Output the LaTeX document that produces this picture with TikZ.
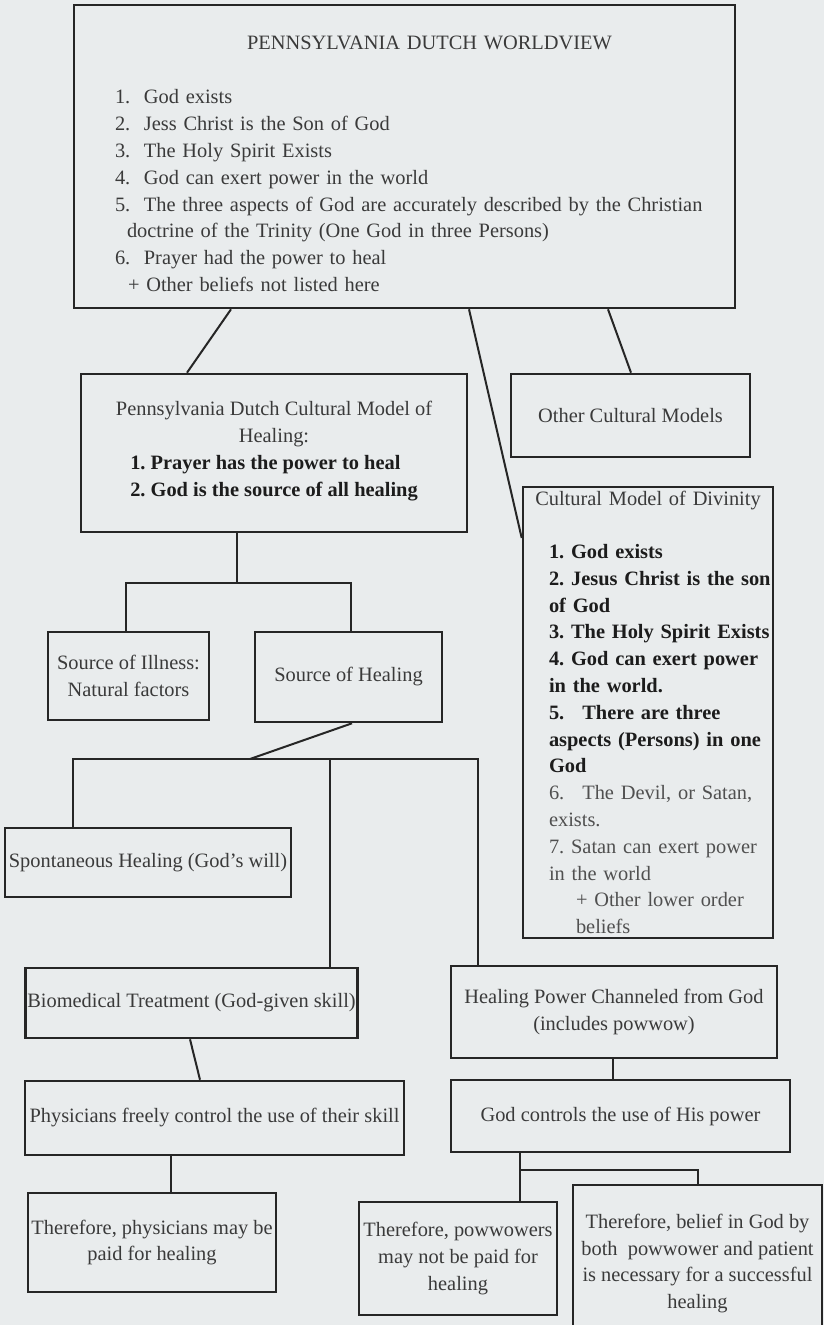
\documentclass[tikz,border=0pt]{standalone}
\usepackage{fontspec}
\setmainfont{Liberation Serif}
\usetikzlibrary{positioning}
\frenchspacing

\definecolor{paper}{RGB}{233,236,237}
\definecolor{ink}{RGB}{58,58,58}
\definecolor{boldink}{RGB}{28,28,28}
\definecolor{softink}{RGB}{80,80,80}
\definecolor{linecol}{RGB}{38,38,38}
\newcommand{\held}[1]{{\color{boldink}\bfseries #1}}

\begin{document}
\begin{tikzpicture}[x=0.5pt,y=-0.5pt]
        \tikzset{modelbox/.style={draw=linecol,line width=1.3pt,inner sep=2pt,text=ink,align=center,font=\fontsize{10.2}{13.4}\selectfont}}
        \tikzset{boxsize/.style 2 args={minimum width=#1*0.5pt,minimum height=#2*0.5pt}}
        \tikzset{link/.style={draw=linecol,line width=1pt}}

        \fill[paper] (0,0) rectangle (824,1325);
        \useasboundingbox (0,0) rectangle (824,1325);

        % worldview and the models under it
        \node[modelbox,boxsize={661}{303},text width=330.5pt,inner xsep=0pt,align=left] (worldview) at (404.5,156.5) {\leftskip=20.5pt\noindent\hspace*{-20.5pt}\makebox[\linewidth]{\hspace{25pt}\rule{0pt}{14pt}PENNSYLVANIA DUTCH WORLDVIEW}\\[14pt]
            1.~ God exists\\
            2.~ Jess Christ is the Son of God\\
            3.~ The Holy Spirit Exists\\
            4.~ God can exert power in the world\\
            \mbox{5.~ The three aspects of God are accurately described by the Christian}\\
            \hspace*{6pt}doctrine of the Trinity (One God in three Persons)\\
            6.~ Prayer had the power to heal\\
            \hspace*{6.5pt}+ Other beliefs not listed here\par};

        \node[modelbox,boxsize={386}{158}] (heal-model) at (274,453) {Pennsylvania Dutch Cultural Model of\\ Healing:\\
            \begin{tabular}[t]{@{}l@{}}\held{1. Prayer has the power to heal}\\ \held{2. God is the source of all healing}\end{tabular}};
        \node[modelbox,boxsize={239}{83}] (other-models) at (630.5,415.5) {Other Cultural Models};

        \node[modelbox,boxsize={250}{451},text width=125pt,inner xsep=0pt,align=left] (divinity) at (648,712.5) {\leftskip=13pt\noindent\hspace*{-13pt}\makebox[\linewidth]{Cultural Model of Divinity}\\[13.1pt]
            \held{1. God exists}\\
            \mbox{\held{2. Jesus Christ is the son}}\\
            \held{of God}\\
            \mbox{\held{3. The Holy Spirit Exists}}\\
            \mbox{\held{4. God can exert power}}\\
            \held{in the world.}\\
            \held{5.\hspace{9pt}There are three}\\
            \mbox{\held{aspects (Persons) in one}}\\
            \held{God}\\
            {\color{softink}6.\hspace{9pt}The Devil, or Satan,}\\
            {\color{softink}exists.}\\
            {\color{softink}7. Satan can exert power}\\
            {\color{softink}in the world}\\
            \hspace*{13.5pt}{\color{softink}+ Other lower order}\\
            \hspace*{13.5pt}{\color{softink}beliefs}\par};

        % sources
        \node[modelbox,boxsize={161}{88}] (illness) at (128.5,676) {Source of Illness:\\ Natural factors};
        \node[modelbox,boxsize={187}{90}] (healing-src) at (348.5,677) {Source of Healing};

        \node[modelbox,boxsize={286}{69}] (spontaneous) at (148,862.5) {Spontaneous Healing (God's will)};
        \node[modelbox,boxsize={329}{70},inner xsep=1pt] (biomed) at (191.5,1003) {Biomedical Treatment (God-given skill)};
        \node[modelbox,boxsize={326}{92}] (channeled) at (614,1012) {Healing Power Channeled from God\\ (includes powwow)};

        \node[modelbox,boxsize={379}{74}] (physicians) at (214.5,1118) {Physicians freely control the use of their skill};
        \node[modelbox,boxsize={339}{72}] (god-ctrl) at (620.5,1116) {God controls the use of His power};

        \node[modelbox,boxsize={248}{99},inner xsep=1pt] (paid) at (152,1242.5) {Therefore, physicians may be\\ paid for healing};
        \node[modelbox,boxsize={198}{113}] (not-paid) at (458,1258.5) {Therefore, powwowers\\ may not be paid for\\ healing};
        \node[modelbox,boxsize={249}{157}] (belief) at (697.5,1263.5) {Therefore, belief in God by\\ both~ powwower and patient\\ is necessary for a successful\\ healing};

        % connectors
        \draw[link] (worldview.south -| 231,0) -- (heal-model.north -| 187,0);
        \draw[link] (worldview.south -| 469,0) -- (divinity.west |- 0,538);
        \draw[link] (worldview.south -| 608,0) -- (other-models.north -| 631,0);

        \coordinate (heal-fork) at (237,583);
        \draw[link] (heal-model.south -| heal-fork) -- (heal-fork);
        \draw[link] (illness.north -| 126,0) |- (heal-fork) -| (healing-src.north -| 351,0);

        \coordinate (src-fork) at (250,759);
        \draw[link] (healing-src.south -| 352,0) -- (src-fork);
        \draw[link] (spontaneous.north -| 73,0) |- (src-fork) -| (channeled.north -| 478,0);
        \draw[link] (biomed.north -| 330,0) -- (src-fork -| 330,0);

        \draw[link] (biomed.south -| 190,0) -- (physicians.north -| 200,0);
        \draw[link] (physicians.south -| 171,0) -- (paid.north -| 171,0);
        \draw[link] (channeled.south -| 613,0) -- (god-ctrl.north -| 613,0);

        \coordinate (ctrl-fork) at (520,1170);
        \draw[link] (god-ctrl.south -| ctrl-fork) -- (not-paid.north -| ctrl-fork);
        \draw[link] (ctrl-fork) -| (belief.north -| 698,0);
\end{tikzpicture}
\end{document}
